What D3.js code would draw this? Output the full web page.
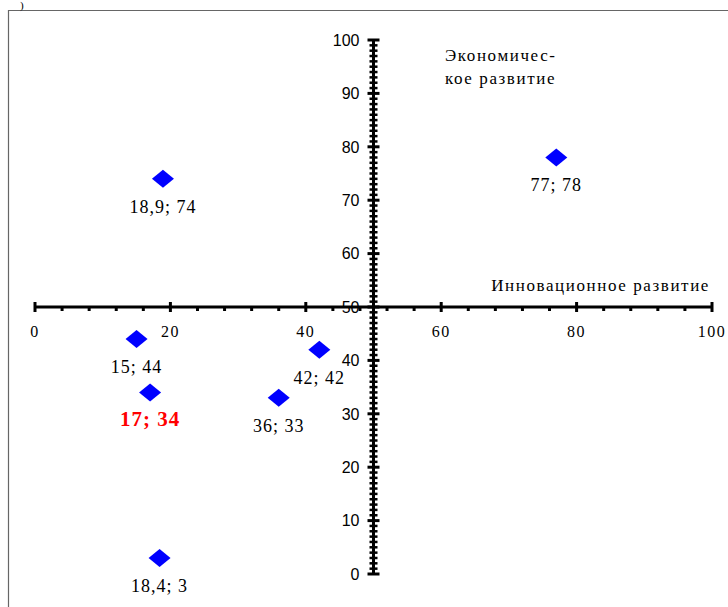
<!DOCTYPE html>
<html>
<head>
<meta charset="utf-8">
<script src="https://cdn.jsdelivr.net/npm/d3@7/dist/d3.min.js"></script>
<style>
  body { margin: 0; background: #fff; }
</style>
</head>
<body>
<script>
// points: [innovation, economic]
var xValues = [18.9, 77, 15, 17, 42, 36, 18.4];
var yValues = [74, 78, 44, 34, 42, 33, 3];
var pointLabels = ["18,9; 74", "77; 78", "15; 44", "17; 34", "42; 42", "36; 33", "18,4; 3"];
var highlight = [false, false, false, true, false, false, false];
var xTicks = [0, 20, 40, 60, 80, 100];
var yTicks = [0, 10, 20, 30, 40, 50, 60, 70, 80, 90, 100];

var width = 728, height = 607;

var svg = d3.select("body").append("svg")
    .attr("width", width)
    .attr("height", height);

// frame
svg.append("path")
    .attr("d", "M8.5," + height + " V10.5 H" + width)
    .attr("fill", "none")
    .attr("stroke", "#666")
    .attr("stroke-width", 1.2);

svg.append("text")
    .attr("x", 20).attr("y", 9)
    .attr("font-family", "Liberation Serif")
    .attr("font-size", "11px")
    .text(")");

var x = d3.scaleLinear().domain([0, 100]).range([35, 712]);
var y = d3.scaleLinear().domain([0, 100]).range([574, 40]);

var axisY = y(50), axisX = x(50);

// x axis
var gx = svg.append("g");
gx.append("line")
    .attr("x1", x(0)).attr("x2", x(100))
    .attr("y1", axisY).attr("y2", axisY)
    .attr("stroke", "#000").attr("stroke-width", 3);

gx.selectAll(".minor").data(d3.range(0, 101, 4).filter(function(d){ return d % 20 != 0; }))
  .enter().append("line")
    .attr("x1", function(d){ return x(d); }).attr("x2", function(d){ return x(d); })
    .attr("y1", axisY).attr("y2", axisY + 4)
    .attr("stroke", "#000").attr("stroke-width", 3);

gx.selectAll(".major").data(xTicks)
  .enter().append("line")
    .attr("x1", function(d){ return x(d); }).attr("x2", function(d){ return x(d); })
    .attr("y1", axisY - 5).attr("y2", axisY + 5)
    .attr("stroke", "#000").attr("stroke-width", 3);

gx.selectAll("text").data(xTicks)
  .enter().append("text")
    .attr("x", function(d){ return x(d); })
    .attr("y", axisY + 30)
    .attr("text-anchor", "middle")
    .attr("font-family", "Liberation Serif")
    .attr("font-size", "16px")
    .attr("letter-spacing", "1.5px")
    .text(function(d){ return d; });

// y axis
var gy = svg.append("g");
gy.append("line")
    .attr("x1", axisX).attr("x2", axisX)
    .attr("y1", y(0)).attr("y2", y(100))
    .attr("stroke", "#000").attr("stroke-width", 3);

gy.selectAll(".minor").data(d3.range(0, 101, 1).filter(function(d){ return d % 10 != 0; }))
  .enter().append("line")
    .attr("x1", axisX - 4).attr("x2", axisX + 4)
    .attr("y1", function(d){ return y(d); }).attr("y2", function(d){ return y(d); })
    .attr("stroke", "#000").attr("stroke-width", 2.5);

gy.selectAll(".major").data(yTicks)
  .enter().append("line")
    .attr("x1", axisX - 6).attr("x2", axisX + 6)
    .attr("y1", function(d){ return y(d); }).attr("y2", function(d){ return y(d); })
    .attr("stroke", "#000").attr("stroke-width", 3);

gy.selectAll("text").data(yTicks)
  .enter().append("text")
    .attr("x", axisX - 14)
    .attr("y", function(d){ return y(d); })
    .attr("dy", "0.36em")
    .attr("text-anchor", "end")
    .attr("font-family", "Liberation Sans")
    .attr("font-size", "16px")
    .text(function(d){ return d; });

// axis titles
svg.append("text")
    .attr("x", 710).attr("y", 291)
    .attr("text-anchor", "end")
    .attr("font-family", "Liberation Serif")
    .attr("font-size", "17px")
    .attr("letter-spacing", "1.6px")
    .text("Инновационное развитие");

var ytitle = svg.append("text")
    .attr("font-family", "Liberation Serif")
    .attr("font-size", "17px")
    .attr("letter-spacing", "1.6px");
ytitle.append("tspan").attr("x", 445).attr("y", 61).text("Экономичес-");
ytitle.append("tspan").attr("x", 445).attr("y", 84).text("кое развитие");

// points
var pts = svg.append("g");
var diamond = "M0,-9 L11,0 L0,9 L-11,0 Z";
pts.selectAll("path").data(xValues)
  .enter().append("path")
    .attr("d", diamond)
    .attr("transform", function(d, i){ return "translate(" + x(d) + "," + y(yValues[i]) + ")"; })
    .attr("fill", "#0000ff");

pts.selectAll("text").data(pointLabels)
  .enter().append("text")
    .attr("x", function(d, i){ return x(xValues[i]); })
    .attr("y", function(d, i){ return y(yValues[i]) + 34; })
    .attr("text-anchor", "middle")
    .attr("font-family", "Liberation Serif")
    .attr("font-size", function(d, i){ return highlight[i] ? "21px" : "18px"; })
    .attr("font-weight", function(d, i){ return highlight[i] ? "bold" : "normal"; })
    .attr("letter-spacing", "1px")
    .attr("fill", function(d, i){ return highlight[i] ? "#ff0000" : "#000"; })
    .text(function(d){ return d; });
</script>
</body>
</html>
